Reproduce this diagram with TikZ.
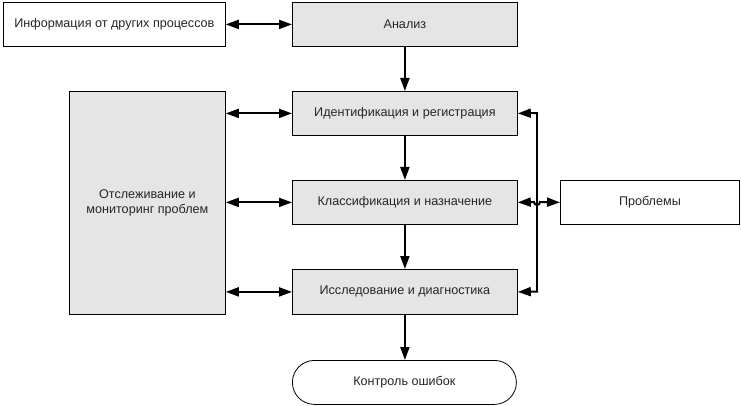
\documentclass[tikz,border=0pt]{standalone}
\usepackage{fontspec}
\setmainfont{Liberation Sans}
\usetikzlibrary{arrows.meta}
\begin{document}
\begin{tikzpicture}[x=1pt,y=-1pt,
  box/.style={draw=black,line width=0.8pt,fill=black!10,minimum width=225pt,minimum height=44pt,inner sep=0pt,anchor=north west,text=black!85,font=\fontsize{12.6}{15}\selectfont,align=center},
  wbox/.style={box,fill=white},
  arr/.style={line width=2pt,-{Triangle[length=13pt,width=9pt]}},
  darr/.style={line width=2pt,{Triangle[length=13pt,width=9pt]}-{Triangle[length=13pt,width=9pt]}},
  ln/.style={line width=2pt}]
\useasboundingbox (0,0) rectangle (741,406);
\node[wbox,minimum width=222pt] (info) at (3,2) {Информация от других процессов};
\node[box] (anal) at (292,2) {Анализ};
\node[box] (ident) at (292,91) {Идентификация и регистрация};
\node[box] (klass) at (292,180) {Классификация и назначение};
\node[box,minimum height=45pt] (issl) at (292,269) {Исследование и диагностика};
\node[box,minimum width=156pt,minimum height=223pt] (track) at (69,91) {Отслеживание и\\мониторинг проблем};
\node[wbox,minimum width=179pt] (prob) at (560,180) {Проблемы};
\node[draw=black,line width=0.8pt,fill=white,rounded corners=22pt,minimum width=224pt,minimum height=44pt,inner sep=0pt,anchor=north west,text=black!85,font=\fontsize{12.6}{15}\selectfont] (ctrl) at (292,360) {Контроль ошибок};
% vertical flow
\draw[arr] (anal.south) -- (ident.north);
\draw[arr] (ident.south) -- (klass.north);
\draw[arr] (klass.south) -- (issl.north);
\draw[arr] (issl.south -| anal.south) -- (ctrl.north -| anal.south);
% left double arrows
\draw[darr] (info.east) -- (anal.west);
\draw[darr] (track.east |- ident.west) -- (ident.west);
\draw[darr] (track.east |- klass.west) -- (klass.west);
\draw[darr] (track.east |- issl.west) -- (issl.west);
% right bus
\coordinate (bt) at (537,113);
\coordinate (bb) at (537,291.5);
\draw[ln] (bt) -- (bb);
\draw[arr] ([xshift=1pt]bt) -- (ident.east);
\draw[arr] ([xshift=1pt]bb) -- (issl.east);
\draw[darr] (prob.west) -- (540,202) arc[start angle=0,end angle=180,radius=3] -- (klass.east);
\end{tikzpicture}
\end{document}
